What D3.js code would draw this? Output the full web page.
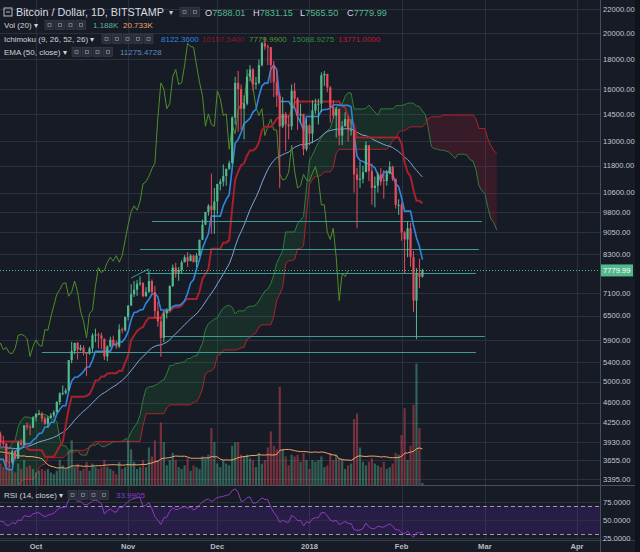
<!DOCTYPE html>
<html><head><meta charset="utf-8">
<script src="https://cdn.jsdelivr.net/npm/d3@7"></script>
<style>html,body{margin:0;padding:0;background:#171b26;overflow:hidden}</style>
</head><body><svg id="c" width="640" height="552"></svg>
<script>
// ---------- DATA (daily, Bitstamp BTC/USD, from startDate) ----------
const startDate = "2017-07-01";
const opens = [
2480,2434,2506,2565,2601,2601,2608,2518,2571,2518,2372,2337,2398,2357,2233,1998,1929,2228,2318,2273,2817,2667,2810,2730,2754,2576,2529,2671,2809,2726,2757,
2875,2718,2710,2804,2895,3252,3213,3378,3419,3342,3381,3650,3884,4073,4325,4181,4376,4331,4160,4193,4087,4001,4100,4151,4334,4371,4352,4382,4382,4579,4565,
4703,4892,4578,4582,4236,4376,4597,4599,4228,4226,4122,4161,4130,3882,3154,3637,3625,3582,4065,3924,3905,3631,3630,3792,3682,3926,3892,4200,4174,4163,
4338,4403,4409,4317,4229,4328,4370,4426,4611,4772,4781,4826,5446,5647,5831,5678,5725,5605,5590,5708,6011,6031,6008,5930,5526,5750,5904,5780,5753,6153,6130,
6468,6767,7078,7207,7379,7407,7022,7144,7459,7143,6618,6357,5950,6559,6635,7315,7871,7708,7790,8036,8200,8071,8253,8038,8253,8790,9330,9818,10058,9888,
10233,10975,11074,11323,11657,11916,14291,16400,16000,14800,15100,16800,17300,16300,16400,17600,19200,18950,18900,17600,16450,15600,13800,14500,13900,13800,15900,15400,14400,14500,12600,
13850,13400,14700,15100,15100,16900,17000,16100,14900,14400,14800,13300,13800,14200,13600,13600,11400,11150,11200,11500,12800,11550,10800,10900,11400,11150,11100,11450,11750,11200,10100,
10100,9050,8800,9200,8200,6900,7700,7588.01];
const highs = [
2515,2515,2595,2635,2622,2616,2608,2571,2573,2525,2409,2423,2425,2362,2234,2058,2231,2387,2385,2900,2839,2863,2833,2777,2757,2610,2693,2797,2809,2759,2900,
2932,2763,2810,2899,3290,3273,3421,3480,3422,3453,3680,3950,4208,4325,4397,4381,4480,4371,4185,4196,4109,4137,4255,4371,4458,4379,4455,4403,4626,4646,4736,
4892,4939,4714,4582,4456,4655,4674,4661,4322,4240,4328,4395,4130,3921,3733,3808,3760,4079,4099,4031,3917,3788,3819,3796,3951,3976,4210,4248,4218,4358,
4403,4470,4433,4352,4362,4414,4460,4627,4792,4923,4866,5446,5856,5837,5853,5788,5775,5605,5744,6060,6171,6076,6075,5935,5776,5977,6000,5887,6280,6200,6470,
6770,7367,7461,7492,7601,7418,7280,7776,7506,7312,6869,6475,6626,6696,7330,7967,8021,7884,8101,8267,8370,8302,8267,8334,8790,9523,9819,10125,11434,10800,
10978,11190,11859,11657,12032,14369,16800,17200,16300,15600,17300,17600,17400,16800,18000,19300,19666,19100,18900,17900,17200,15800,15500,14600,14400,16300,16400,15500,15100,14500,14200,
13900,15300,15400,15400,17100,17200,17000,16200,15300,14900,14800,14100,14600,14395,14200,13600,11700,12000,11800,13000,12800,11900,11300,11500,11700,11600,11600,12000,11800,11200,10325,
10200,9100,9450,9400,8400,7850,8150,7831.15];
const lows = [
2410,2390,2506,2565,2538,2581,2498,2495,2518,2317,2267,2275,2347,2182,1985,1843,1929,2164,2237,2269,2609,2667,2700,2699,2480,2450,2520,2652,2691,2617,2733,
2699,2669,2716,2743,2874,3168,3203,3345,3247,3319,3373,3633,3884,3989,3906,3995,4256,3970,3960,4070,3988,3690,4079,4138,4334,4299,4332,4250,4352,4488,4565,
4678,4470,4482,4135,3981,4376,4493,4075,4138,3893,4123,4062,3765,3153,2946,3487,3531,3582,3869,3874,3581,3564,3594,3666,3682,3877,3884,4131,4039,4160,
4269,4377,4258,4210,4164,4318,4333,4426,4555,4736,4750,4826,5380,5575,5461,5646,5548,5109,5564,5628,5850,5703,5688,5450,5426,5732,5775,5699,5715,6060,6103,
6377,6758,7002,7031,7319,6995,7007,7114,7069,6436,6223,5520,5845,6424,6635,7284,7558,7464,7694,8038,7888,8075,8038,7876,8253,8775,9317,9674,9000,9000,
9722,10695,10867,10896,11604,11923,13900,13500,13600,13100,15000,16500,15900,16000,16300,17500,18700,17600,16400,15500,14900,10800,13700,12500,13100,13600,14800,13600,14000,12300,12500,
12800,12900,14500,13900,14600,16200,15800,14000,14200,13200,12800,12800,13800,13000,13300,10600,9200,10800,11000,11500,11100,10100,10000,10600,10900,10350,10900,11400,11100,9950,9700,
8750,7700,8200,7900,6600,5920,7250,7565.50];
const closes = [
2434,2506,2565,2601,2601,2608,2518,2571,2518,2372,2337,2398,2357,2233,1998,1929,2228,2318,2273,2817,2667,2810,2730,2754,2576,2529,2671,2809,2726,2757,2875,
2718,2710,2804,2895,3252,3213,3378,3419,3342,3381,3650,3884,4073,4325,4181,4376,4331,4160,4193,4087,4001,4100,4151,4334,4371,4352,4382,4382,4579,4565,4703,
4892,4578,4582,4236,4376,4597,4599,4228,4226,4122,4161,4130,3882,3154,3637,3625,3582,4065,3924,3905,3631,3630,3792,3682,3926,3892,4200,4174,4163,4338,
4403,4409,4317,4229,4328,4370,4426,4611,4772,4781,4826,5446,5647,5831,5678,5725,5605,5590,5708,6011,6031,6008,5930,5526,5750,5904,5780,5753,6153,6130,6468,
6767,7078,7207,7379,7407,7022,7144,7459,7143,6618,6357,5950,6559,6635,7315,7871,7708,7790,8036,8200,8071,8253,8038,8253,8790,9330,9818,10058,9888,10233,
10975,11074,11323,11657,11916,14291,16400,16000,14800,15100,16800,17300,16300,16400,17600,19200,18950,18900,17600,16450,15600,13800,14500,13900,13800,15900,15400,14400,14500,12600,13850,
13400,14700,15100,15100,16900,17000,16100,14900,14400,14800,13300,13800,14200,13600,13600,11400,11150,11200,11500,12800,11550,10800,10900,11400,11150,11100,11450,11750,11200,10100,10100,
9050,8800,9200,8200,6900,7700,7588.01,7779.99];
// volume in thousands of BTC
const volumes = [
9,10,8,9,8,7,9,8,7,12,11,10,9,12,18,16,14,13,9,20,16,12,9,8,12,11,10,11,9,8,11,
13,10,9,10,18,11,14,12,11,10,15,20,22,19,21,15,14,18,12,10,11,16,12,13,12,9,10,11,14,11,15,
20,18,12,22,20,14,12,18,10,12,12,14,20,40,45,22,14,20,12,10,16,11,8,7,12,9,14,10,11,9,
7,8,9,8,9,7,6,8,14,11,9,19,25,10,12,8,9,13,8,12,10,9,10,14,10,9,8,6,13,9,10,
25,20,13,9,10,14,10,21,16,25,14,35,24,11,14,18,14,10,9,11,15,8,11,10,9,16,15,17,32,24,
12,10,14,12,11,22,24,24,17,16,17,15,14,10,18,12,14,21,30,22,20,55,20,16,11,17,16,17,13,18,14,
9,14,13,14,16,10,11,18,14,17,15,14,9,11,12,37,40,21,13,11,13,15,12,11,10,13,9,10,12,18,17,
28,43,14,22,45,68,32,1.188];
// axis ticks and labels
const priceTicks = [22000,20000,18000,16000,14500,13000,11800,10600,9800,9050,8300,7100,6500,5900,5400,5000,4600,4250,3930,3655,3395];
const rsiTicks = [75,50,25];
const monthTicks = ["2017-10-01","2017-11-01","2017-12-01","2018-01-01","2018-02-01","2018-03-01","2018-04-01"];
const monthLabels = ["Oct","Nov","Dec","2018","Feb","Mar","Apr"];
// user-drawn horizontal levels
const levelPrices = [9475, 8476, 7705, 5998, 5628];
const levelStarts = ["2017-11-09","2017-11-05","2017-11-07","2017-11-13","2017-10-03"];
const levelEnds   = ["2018-02-28","2018-02-27","2018-02-26","2018-03-01","2018-02-26"];
const trendLine = [{date:"2017-11-02", price:7550},{date:"2017-11-08", price:7828}];
// legend values
const lastPrice = 7779.99;
const ohlcText = [["O","7588.01"],["H","7831.15"],["L","7565.50"],["C","7779.99"]];
const volLegend = ["1.188K","20.733K"];
const ichiLegend = ["8122.3600","10157.5400","7779.9900","15088.9275","13771.0000"];
const emaLegend = "11275.4728";
const rsiLegend = "33.9905";

// ---------- SETUP ----------
const W=640,H=552, plotR=600, pBot=485, rTop=487, rBot=540;
const FONT='"Liberation Sans", Arial, sans-serif';
const bg="#171b26", grid="#2b303d";
const upC="#53b98d", dnC="#e44d5e";
const svg=d3.select("#c");
svg.append("rect").attr("width",W).attr("height",H).attr("fill",bg);
const parse=d3.utcParse("%Y-%m-%d");
const d0=parse(startDate);
const N=closes.length;
const OFF=25;
const dates=d3.range(N+OFF+2).map(i=>d3.utcDay.offset(d0,i));
const x=d3.scaleUtc().domain([parse("2017-10-01"),parse("2018-04-01")]).range([36,577]);
const y=d3.scaleLog().domain([3395,22000]).range([479,9]);
const yv=d3.scaleLinear().domain([0,270]).range([pBot,3]);
const yr=d3.scaleLinear().domain([25,75]).range([538,502]);

const defs=svg.append("defs");
defs.append("clipPath").attr("id","pc").append("rect").attr("x",0).attr("y",0).attr("width",plotR).attr("height",pBot);
defs.append("clipPath").attr("id","rc").append("rect").attr("x",0).attr("y",rTop).attr("width",plotR).attr("height",rBot-rTop);

// grid
const g=svg.append("g");
g.selectAll(".vg").data(monthTicks).join("line").attr("x1",d=>Math.round(x(parse(d)))+0.5).attr("x2",d=>Math.round(x(parse(d)))+0.5)
 .attr("y1",0).attr("y2",rBot).attr("stroke",grid).attr("stroke-width",1);
g.selectAll(".hg").data(priceTicks).join("line").attr("x1",0).attr("x2",plotR).attr("y1",d=>Math.round(y(d))+0.5).attr("y2",d=>Math.round(y(d))+0.5)
 .attr("stroke",grid).attr("stroke-width",1);

// ---------- INDICATORS ----------
function donch(len,i){ if(i<len-1) return null; let hh=-Infinity,ll=Infinity; for(let k=i-len+1;k<=i;k++){hh=Math.max(hh,highs[k]);ll=Math.min(ll,lows[k]);} return (hh+ll)/2; }
const tenkan=closes.map((_,i)=>donch(9,i));
const kijun=closes.map((_,i)=>donch(26,i));
const sb=closes.map((_,i)=>donch(52,i));
const span=[];
closes.forEach((_,i)=>{ if(sb[i]!=null) span.push({d:dates[i+OFF],a:(tenkan[i]+kijun[i])/2,b:sb[i]}); });
const lag=[]; closes.forEach((c,i)=>{ if(i>=OFF) lag.push({d:dates[i-OFF],v:c}); });
const ema=[]; const al=2/51; closes.forEach((c,i)=>{ ema.push(i===0?c:al*c+(1-al)*ema[i-1]); });
const rsi=new Array(N).fill(null);
{ let ag=0,al2=0; for(let i=1;i<N;i++){ const ch=closes[i]-closes[i-1]; const gn=Math.max(ch,0), ls=Math.max(-ch,0);
   if(i<=14){ ag+=gn/14; al2+=ls/14; if(i===14) rsi[i]=100-100/(1+ag/al2); }
   else { ag=(ag*13+gn)/14; al2=(al2*13+ls)/14; rsi[i]= al2===0?100:100-100/(1+ag/al2); } } }
const vma=volumes.map((_,i)=> i<19?null:d3.mean(volumes.slice(i-19,i+1)));

// ---------- PRICE PANE ----------
const pp=svg.append("g").attr("clip-path","url(#pc)");
// cloud
const areaG=d3.area().x(d=>x(d.d)).y0(d=>y(d.b)).y1(d=>y(Math.max(d.a,d.b)));
const areaR=d3.area().x(d=>x(d.d)).y0(d=>y(d.a)).y1(d=>y(Math.max(d.a,d.b)));
pp.append("path").datum(span).attr("d",areaG).attr("fill","rgba(40,150,60,0.16)");
pp.append("path").datum(span).attr("d",areaR).attr("fill","rgba(210,30,50,0.18)");
const ln=(acc)=>d3.line().x(d=>x(d.d)).y(d=>y(acc(d)));
pp.append("path").datum(span).attr("d",ln(d=>d.a)).attr("fill","none").attr("stroke","#2f7d3a").attr("stroke-width",1);
pp.append("path").datum(span).attr("d",ln(d=>d.b)).attr("fill","none").attr("stroke","#b3202e").attr("stroke-width",1);

// volume
const vg=pp.append("g");
vg.selectAll("rect").data(volumes.map((v,i)=>({v,i}))).join("rect")
 .attr("x",d=>x(dates[d.i])-1.1).attr("width",2.2)
 .attr("y",d=>yv(d.v)).attr("height",d=>pBot-yv(d.v))
 .attr("fill",d=>closes[d.i]>=opens[d.i]?upC:dnC).attr("opacity",0.45);
pp.append("path").datum(vma.map((v,i)=>({v,i})).filter(d=>d.v!=null))
 .attr("d",d3.line().x(d=>x(dates[d.i])).y(d=>yv(d.v))).attr("fill","none").attr("stroke","#f0a46a").attr("stroke-width",1);

// lines
const series=(arr)=>arr.map((v,i)=>({d:dates[i],v})).filter(d=>d.v!=null);
pp.append("path").datum(series(ema)).attr("d",ln(d=>d.v)).attr("fill","none").attr("stroke","#7ea6d8").attr("stroke-width",1);
pp.append("path").datum(lag).attr("d",ln(d=>d.v)).attr("fill","none").attr("stroke","#4d8f27").attr("stroke-width",1);
pp.append("path").datum(series(kijun)).attr("d",ln(d=>d.v)).attr("fill","none").attr("stroke","#a8202c").attr("stroke-width",2);
pp.append("path").datum(series(tenkan)).attr("d",ln(d=>d.v)).attr("fill","none").attr("stroke","#2f86e0").attr("stroke-width",1.6);

// drawn levels
pp.selectAll(".lvl").data(levelPrices.map((p,i)=>({p,s:levelStarts[i],e:levelEnds[i]}))).join("line")
 .attr("x1",d=>x(parse(d.s))).attr("x2",d=>x(parse(d.e))).attr("y1",d=>Math.round(y(d.p))+0.5).attr("y2",d=>Math.round(y(d.p))+0.5)
 .attr("stroke","#3a9d95").attr("stroke-width",1.2);
pp.append("line").attr("x1",x(parse(trendLine[0].date))).attr("y1",y(trendLine[0].price))
 .attr("x2",x(parse(trendLine[1].date))).attr("y2",y(trendLine[1].price)).attr("stroke","#3a9d95").attr("stroke-width",1);

// candles
const cd=closes.map((c,i)=>({i,o:opens[i],h:highs[i],l:lows[i],c}));
const cg=pp.append("g");
cg.selectAll("line").data(cd).join("line")
 .attr("x1",d=>x(dates[d.i])).attr("x2",d=>x(dates[d.i])).attr("y1",d=>y(d.h)).attr("y2",d=>y(d.l))
 .attr("stroke",d=>d.c>=d.o?upC:dnC).attr("stroke-width",1);
cg.selectAll("rect").data(cd).join("rect")
 .attr("x",d=>x(dates[d.i])-1.1).attr("width",2.2)
 .attr("y",d=>y(Math.max(d.o,d.c))).attr("height",d=>Math.max(1,Math.abs(y(d.o)-y(d.c))))
 .attr("fill",d=>d.c>=d.o?upC:dnC);

// price line
pp.append("line").attr("x1",0).attr("x2",plotR).attr("y1",Math.round(y(lastPrice))+0.5).attr("y2",Math.round(y(lastPrice))+0.5)
 .attr("stroke",upC).attr("stroke-dasharray","1,2").attr("stroke-width",1);

// ---------- RSI PANE ----------
const rp=svg.append("g").attr("clip-path","url(#rc)");
rp.append("rect").attr("x",0).attr("width",plotR).attr("y",yr(70)).attr("height",yr(30)-yr(70)).attr("fill","rgba(120,40,230,0.17)");
rp.selectAll(".rg").data(rsiTicks).join("line").attr("x1",0).attr("x2",plotR).attr("y1",d=>Math.round(yr(d))+0.5).attr("y2",d=>Math.round(yr(d))+0.5).attr("stroke",grid);
rp.selectAll(".rd").data([70,30]).join("line").attr("x1",0).attr("x2",plotR).attr("y1",d=>Math.round(yr(d))+0.5).attr("y2",d=>Math.round(yr(d))+0.5)
 .attr("stroke","#9a9ca6").attr("stroke-dasharray","4,3").attr("stroke-width",1);
rp.append("path").datum(rsi.map((v,i)=>({d:dates[i],v})).filter(d=>d.v!=null))
 .attr("d",d3.line().x(d=>x(d.d)).y(d=>yr(d.v))).attr("fill","none").attr("stroke","#8e3cc0").attr("stroke-width",1);

// ---------- AXES / FRAME ----------
svg.append("line").attr("x1",0).attr("x2",W).attr("y1",pBot+0.5).attr("y2",pBot+0.5).attr("stroke","#4a4f5c");
svg.append("line").attr("x1",0).attr("x2",W).attr("y1",rBot+0.5).attr("y2",rBot+0.5).attr("stroke","#3a3f4b");
svg.append("line").attr("x1",plotR+0.5).attr("x2",plotR+0.5).attr("y1",0).attr("y2",H).attr("stroke","#4a4f5c");
svg.append("rect").attr("x",635).attr("y",0).attr("width",5).attr("height",H).attr("fill","#10131b");

const ax=svg.append("g").attr("font-family",FONT).attr("font-size",7.6).attr("fill","#c3c6cf");
ax.selectAll(".pt").data(priceTicks).join("text").attr("x",603).attr("y",d=>y(d)).attr("dy","0.35em").text(d=>d3.format(".2f")(d));
ax.selectAll(".rt").data(rsiTicks).join("text").attr("x",603).attr("y",d=>yr(d)).attr("dy","0.35em").text(d=>d3.format(".4f")(d));
ax.selectAll(".mt").data(monthTicks).join("text").attr("x",d=>x(parse(d))).attr("y",549).attr("text-anchor","middle").attr("font-weight","bold").attr("fill","#b8bbc4")
 .text((d,i)=>monthLabels[i]);
// last price label
svg.append("rect").attr("x",601).attr("y",y(lastPrice)-6).attr("width",32).attr("height",12).attr("fill",upC);
svg.append("text").attr("x",603).attr("y",y(lastPrice)).attr("dy","0.35em").attr("font-family",FONT).attr("font-size",7.6).attr("fill","#ffffff").text(d3.format(".2f")(lastPrice));

// ---------- LEGEND ----------
const lg=svg.append("g").attr("font-family",FONT);
function icons(x0,n,yc){ for(let k=0;k<n;k++){ lg.append("rect").attr("x",x0+k*10.5).attr("y",yc-4.5).attr("width",9).attr("height",9).attr("fill","#2a2e3a").attr("stroke","#3c414e").attr("stroke-width",0.6);
  lg.append("rect").attr("x",x0+k*10.5+3).attr("y",yc-1.5).attr("width",3).attr("height",3).attr("fill","none").attr("stroke","#7d8290").attr("stroke-width",0.8);} }
// title
lg.append("rect").attr("x",4).attr("y",8).attr("width",8).attr("height",8).attr("fill","none").attr("stroke","#c9ccd4").attr("stroke-width",0.9);
lg.append("line").attr("x1",6).attr("x2",10).attr("y1",12).attr("y2",12).attr("stroke","#c9ccd4").attr("stroke-width",0.9);
lg.append("text").attr("x",16).attr("y",16).attr("font-size",10.8).attr("fill","#d9dbe1").text("Bitcoin / Dollar, 1D, BITSTAMP");
lg.append("text").attr("x",169).attr("y",15).attr("font-size",8).attr("fill","#c9ccd4").text("▾");
icons(180,2,12);
const ohlcX=[205,253,300,347];
ohlcText.forEach((p,i)=>{ const t=lg.append("text").attr("x",ohlcX[i]).attr("y",16).attr("font-size",9.2);
  t.append("tspan").attr("fill","#d9dbe1").text(p[0]); t.append("tspan").attr("fill",upC).text(p[1]); });
// Vol
lg.append("text").attr("x",4).attr("y",28).attr("font-size",8).attr("fill","#d0d3da").text("Vol (20) ▾");
icons(45,4,25);
lg.append("text").attr("x",93).attr("y",28).attr("font-size",8).attr("fill",upC).text(volLegend[0]);
lg.append("text").attr("x",123).attr("y",28).attr("font-size",8).attr("fill","#f0a46a").text(volLegend[1]);
// Ichimoku
lg.append("text").attr("x",4).attr("y",42).attr("font-size",8).attr("fill","#d0d3da").text("Ichimoku (9, 26, 52, 26) ▾");
icons(102,5,39);
const ichiX=[161,202,249,292,338], ichiC=["#2f86e0","#8a1a22","#4d9a2a","#2f8a3e","#c01a2c"];
ichiLegend.forEach((t,i)=>lg.append("text").attr("x",ichiX[i]).attr("y",42).attr("font-size",8).attr("fill",ichiC[i]).text(t));
// EMA
lg.append("text").attr("x",4).attr("y",55).attr("font-size",8).attr("fill","#d0d3da").text("EMA (50, close) ▾");
icons(72,4,52);
lg.append("text").attr("x",120).attr("y",55).attr("font-size",8).attr("fill","#5a8cc0").text(emaLegend);
// RSI
lg.append("text").attr("x",4).attr("y",498).attr("font-size",8).attr("fill","#d0d3da").text("RSI (14, close) ▾");
icons(68,4,495);
lg.append("text").attr("x",116).attr("y",498).attr("font-size",8).attr("fill","#8e3cc0").text(rsiLegend);
</script></body></html>
